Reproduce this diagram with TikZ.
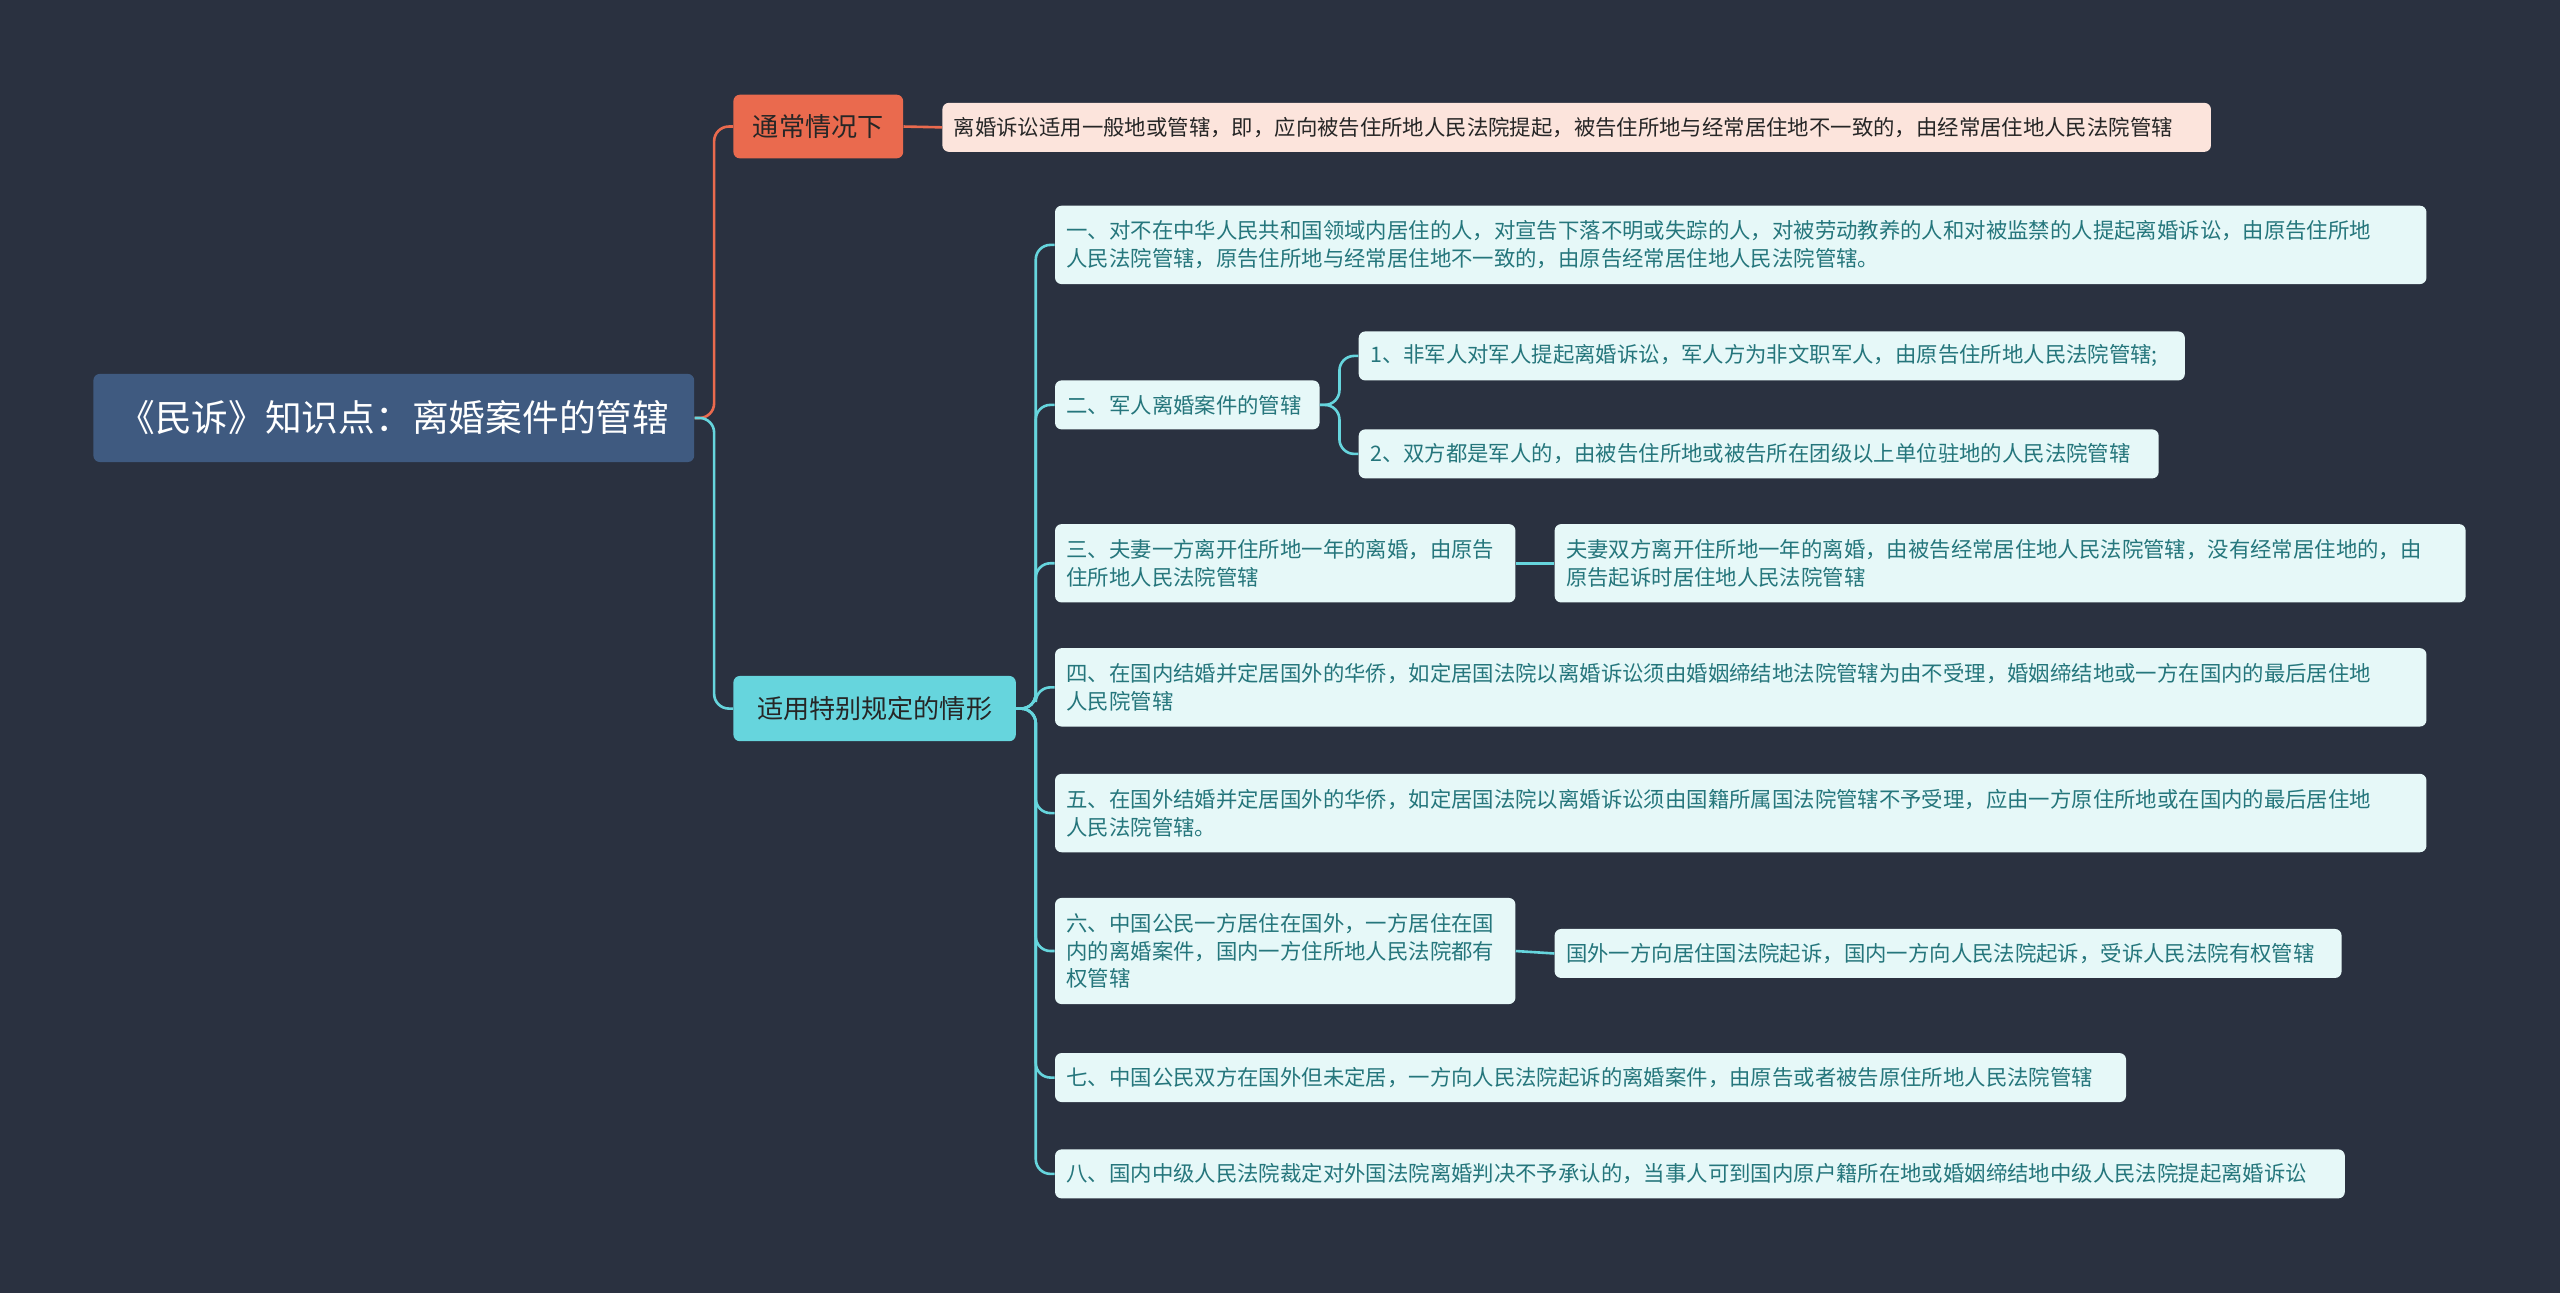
\documentclass[tikz,border=0pt]{standalone}
\usepackage{fontspec}
\setmainfont{Noto Sans CJK SC}
\begin{document}
\begin{tikzpicture}[x=1pt,y=-1pt,
  bx/.style={anchor=west,rounded corners=4pt,inner xsep=7pt,inner ysep=0pt,align=left},
  leaf/.style={bx,fill=leafc,text=leaft,font=\fontsize{13.1}{17}\selectfont},
  ln/.style={line width=1.6pt,rounded corners=9pt}]
\definecolor{bg}{HTML}{2A3140}
\definecolor{rootc}{HTML}{3F5A80}
\definecolor{orc}{HTML}{EA6A4E}
\definecolor{pinkc}{HTML}{FCE4DC}
\definecolor{cyc}{HTML}{66D5DD}
\definecolor{leafc}{HTML}{E6F8F8}
\definecolor{leaft}{HTML}{25767C}
\fill[bg] (0,0) rectangle (1568,792);
\useasboundingbox (0,0) rectangle (1568,792);
\node[bx,fill=rootc,text=white,minimum height=54pt,text width=354pt,align=center,font=\fontsize{22.5}{27}\selectfont] (root) at (57,256) {《民诉》知识点：离婚案件的管辖};
\node[bx,fill=orc,text=black!85,minimum height=39pt,text width=90pt,align=center,font=\fontsize{16}{20}\selectfont] (a) at (449,77.5) {通常情况下};
\node[bx,fill=pinkc,text=black!85,minimum height=30pt,text width=763pt,font=\fontsize{13.1}{17}\selectfont] (a1) at (577,78) {离婚诉讼适用一般地或管辖，即，应向被告住所地人民法院提起，被告住所地与经常居住地不一致的，由经常居住地人民法院管辖};
\node[bx,fill=cyc,text=black!85,minimum height=40pt,text width=159pt,align=center,font=\fontsize{16}{20}\selectfont] (b) at (449,434) {适用特别规定的情形};
\node[leaf,minimum height=48pt,text width=826pt] (c1) at (646,150) {一、对不在中华人民共和国领域内居住的人，对宣告下落不明或失踪的人，对被劳动教养的人和对被监禁的人提起离婚诉讼，由原告住所地\\人民法院管辖，原告住所地与经常居住地不一致的，由原告经常居住地人民法院管辖。};
\node[leaf,minimum height=30pt,text width=148pt] (c2) at (646,248) {二、军人离婚案件的管辖};
\node[leaf,minimum height=30pt,text width=492pt] (c2a) at (832,218) {1、非军人对军人提起离婚诉讼，军人方为非文职军人，由原告住所地人民法院管辖;};
\node[leaf,minimum height=30pt,text width=476pt] (c2b) at (832,278) {2、双方都是军人的，由被告住所地或被告所在团级以上单位驻地的人民法院管辖};
\node[leaf,minimum height=48pt,text width=268pt] (c3) at (646,345) {三、夫妻一方离开住所地一年的离婚，由原告\\住所地人民法院管辖};
\node[leaf,minimum height=48pt,text width=544pt] (c3a) at (952,345) {夫妻双方离开住所地一年的离婚，由被告经常居住地人民法院管辖，没有经常居住地的，由\\原告起诉时居住地人民法院管辖};
\node[leaf,minimum height=48pt,text width=826pt] (c4) at (646,421) {四、在国内结婚并定居国外的华侨，如定居国法院以离婚诉讼须由婚姻缔结地法院管辖为由不受理，婚姻缔结地或一方在国内的最后居住地\\人民院管辖};
\node[leaf,minimum height=48pt,text width=826pt] (c5) at (646,498) {五、在国外结婚并定居国外的华侨，如定居国法院以离婚诉讼须由国籍所属国法院管辖不予受理，应由一方原住所地或在国内的最后居住地\\人民法院管辖。};
\node[leaf,minimum height=65pt,text width=268pt] (c6) at (646,582.5) {六、中国公民一方居住在国外，一方居住在国\\内的离婚案件，国内一方住所地人民法院都有\\权管辖};
\node[leaf,minimum height=30pt,text width=468pt] (c6a) at (952,584) {国外一方向居住国法院起诉，国内一方向人民法院起诉，受诉人民法院有权管辖};
\node[leaf,minimum height=30pt,text width=642pt] (c7) at (646,660) {七、中国公民双方在国外但未定居，一方向人民法院起诉的离婚案件，由原告或者被告原住所地人民法院管辖};
\node[leaf,minimum height=30pt,text width=776pt] (c8) at (646,719) {八、国内中级人民法院裁定对外国法院离婚判决不予承认的，当事人可到国内原户籍所在地或婚姻缔结地中级人民法院提起离婚诉讼};
\draw[ln,orc] (root.east) -- ++(12,0) |- (a.west);
\draw[ln,orc] (a.east) -- (a1.west);
\draw[ln,cyc] (root.east) -- ++(12,0) |- (b.west);
\foreach \n in {c1,c2,c3,c4,c5,c6,c7,c8}
  \draw[ln,cyc] (b.east) -- ++(12,0) |- (\n.west);
\foreach \n in {c2a,c2b}
  \draw[ln,cyc] (c2.east) -- ++(12,0) |- (\n.west);
\draw[ln,cyc] (c3.east) -- (c3a.west);
\draw[ln,cyc] (c6.east) -- (c6a.west);
\end{tikzpicture}
\end{document}
